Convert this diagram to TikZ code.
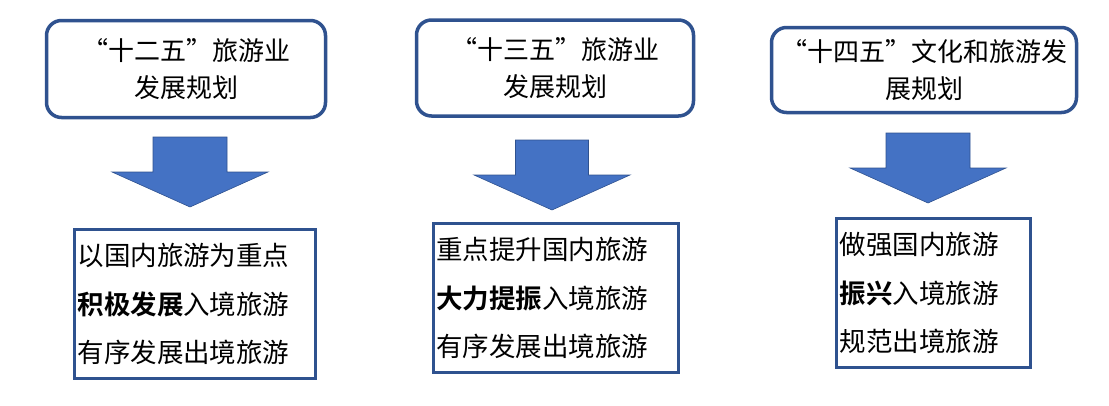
\documentclass[tikz,border=0pt]{standalone}
\usepackage{fontspec}
\usepackage{xcolor}
\usepackage{tikz}
\usetikzlibrary{positioning}
\newfontfamily\cjk{Noto Sans CJK SC}[BoldFont={Noto Sans CJK SC Bold}]
\definecolor{planblue}{RGB}{47, 82, 143}
\definecolor{arrowblue}{RGB}{68, 114, 196}

\begin{document}
\begin{tikzpicture}[
  x=1pt, y=-1pt,
  planbox/.style={rectangle, rounded corners=15pt, draw=planblue, line width=3.5pt, fill=white,
                  align=center, font={\cjk\fontsize{26}{37.5}\selectfont}, inner sep=2pt},
  goalbox/.style={rectangle, draw=planblue, line width=3pt, fill=white, minimum height=149pt,
                  align=left, inner sep=3pt, font={\cjk\fontsize{26.5}{48.5}\selectfont}},
  bigarrow/.style={fill=arrowblue, draw=planblue, line width=0.6pt}
]
\useasboundingbox (0,0) rectangle (1109,405);

% planning documents
\node[planbox, minimum width=279pt, minimum height=97pt] (plan1) at (186,69) {“十二五”旅游业\\发展规划};
\node[planbox, minimum width=277pt, minimum height=96pt] (plan2) at (555,68) {“十三五”旅游业\\发展规划};
\node[planbox, minimum width=305pt, minimum height=85pt] (plan3) at (924,70) {“十四五”文化和旅游发\\展规划};

% block arrows
\foreach \cx/\ty/\sw in {190/137/37, 552/140/36.5, 928/133/42}
  \draw[bigarrow] (\cx,\ty) ++(-\sw,0) -- ++(0,35) -- ++(\sw-78,0) -- (\cx,\ty+70)
    -- ++(78,-35) -- ++(\sw-78,0) -- ++(0,-35) -- cycle;

% goals
\node[goalbox, text width=235pt] (goal1) at (195,304) {以国内旅游为重点\\\textbf{积极发展}入境旅游\\有序发展出境旅游};
\node[goalbox, text width=239pt] (goal2) at (555.5,298) {重点提升国内旅游\\\textbf{大力提振}入境旅游\\有序发展出境旅游};
\node[goalbox, text width=188pt] (goal3) at (933.5,293) {做强国内旅游\\\textbf{振兴}入境旅游\\规范出境旅游};

\end{tikzpicture}
\end{document}
